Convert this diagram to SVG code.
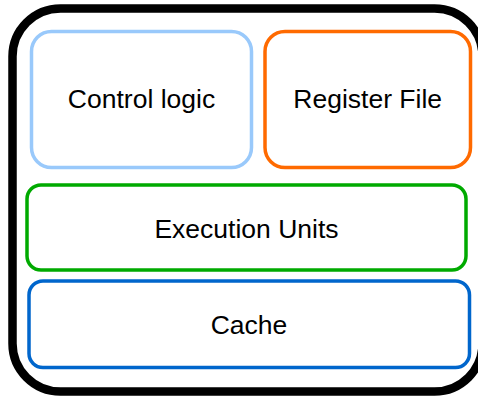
<svg xmlns="http://www.w3.org/2000/svg" width="478" height="396" viewBox="0 0 478 396">
  <style>
    .box { fill: #ffffff; stroke-width: 3.5; }
    .label { font-family: "Liberation Sans", Arial, sans-serif; font-size: 26.5px; fill: #000000; text-anchor: middle; }
  </style>
  <rect x="0" y="0" width="478" height="396" fill="#ffffff"/>
  <!-- outer chip outline -->
  <g id="chip">
    <rect x="12.5" y="8.5" width="470" height="383" rx="48" ry="48" fill="#ffffff" stroke="#000000" stroke-width="8.5"/>
  </g>
  <g id="control-logic">
    <rect class="box" x="31.5" y="31.5" width="220" height="136" rx="20" ry="20" stroke="#99c9fb"/>
    <text class="label" x="141.5" y="107.5">Control logic</text>
  </g>
  <g id="register-file">
    <rect class="box" x="265" y="31.5" width="205.5" height="136" rx="20" ry="20" stroke="#ff6a00"/>
    <text class="label" x="367.7" y="107.5">Register File</text>
  </g>
  <g id="execution-units">
    <rect class="box" x="27" y="185" width="439" height="85" rx="14" ry="14" stroke="#00aa00"/>
    <text class="label" x="246.5" y="237.5">Execution Units</text>
  </g>
  <g id="cache">
    <rect class="box" x="29" y="281" width="440.5" height="86.5" rx="14" ry="14" stroke="#0066cc"/>
    <text class="label" x="249" y="333.5">Cache</text>
  </g>
  <g id="connectors"/>
</svg>
